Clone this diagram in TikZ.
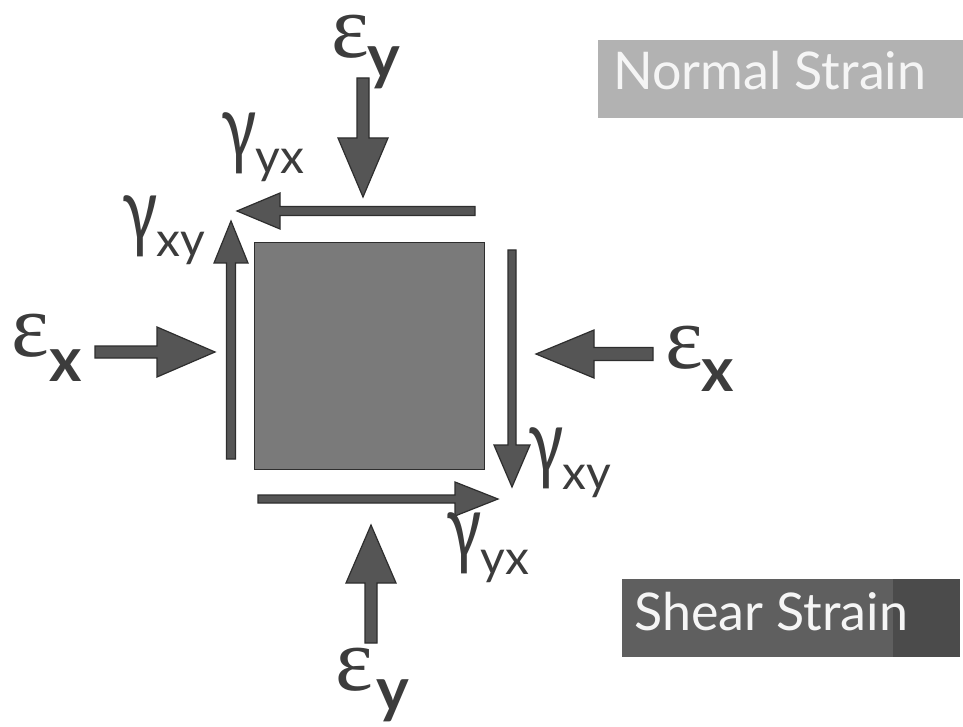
\documentclass[tikz,border=0pt]{standalone}
\usepackage{fontspec}
\setmainfont{Lato}
\newfontfamily\epsfont{Liberation Serif}
\definecolor{sqfill}{HTML}{7A7A7A}
\definecolor{edge}{HTML}{2E2E2E}
\definecolor{arrfill}{HTML}{555555}
\definecolor{lab}{HTML}{3C3C3C}
\definecolor{nbox}{HTML}{B2B2B2}
\definecolor{sbox}{HTML}{5F5F5F}
\definecolor{sboxd}{HTML}{4B4B4B}
\tikzset{
  arr/.style={fill=arrfill, draw=edge, line width=1.2pt, line join=miter},
  eps/.style={anchor=south west, inner sep=0pt, text=lab, font=\epsfont\fontsize{90}{90}\selectfont},
  esub/.style={anchor=base west, inner sep=0pt, text=lab, font=\fontsize{62}{62}\selectfont\bfseries},
  gam/.style={anchor=south west, inner sep=0pt, text=lab, font=\fontsize{90}{90}\selectfont},
  gsub/.style={anchor=base west, inner sep=0pt, text=lab, font=\fontsize{48}{48}\selectfont},
  boxtext/.style={anchor=base west, inner sep=0pt, font=\fontsize{52}{52}\selectfont},
}
\newcommand\gchar{\scalebox{0.72}[1]{γ}}
\newcommand\myharrow[6]{% tail x, tip x, y, shaft hw, head length, head hw
  \pgfmathsetmacro\hbase{(#2>#1) ? (#2-#5) : (#2+#5)}
  \filldraw[arr] (#1,{#3-#4}) -- (\hbase,{#3-#4}) -- (\hbase,{#3-#6}) -- (#2,#3)
    -- (\hbase,{#3+#6}) -- (\hbase,{#3+#4}) -- (#1,{#3+#4}) -- cycle;}
\newcommand\myvarrow[6]{% x, tail y, tip y, shaft hw, head length, head hw
  \pgfmathsetmacro\vbase{(#3>#2) ? (#3-#5) : (#3+#5)}
  \filldraw[arr] ({#1-#4},#2) -- ({#1-#4},\vbase) -- ({#1-#6},\vbase) -- (#1,#3)
    -- ({#1+#6},\vbase) -- ({#1+#4},\vbase) -- ({#1+#4},#2) -- cycle;}
\begin{document}
\begin{tikzpicture}[x=1pt,y=-1pt]
\useasboundingbox (0,0) rectangle (963,727);
\fill[white] (0,0) rectangle (963,727);
% square element
\node (sq) [draw=edge, fill=sqfill, line width=1.4pt, minimum width=230, minimum height=227, inner sep=0pt, anchor=north west] at (254,242) {};
% normal strain arrows
\myvarrow{363}{78}{197}{6}{59}{25}
\myvarrow{371}{643}{525}{6}{58}{25}
\myharrow{95}{215}{352}{6}{58}{25}
\myharrow{653}{536}{354}{6.5}{58}{24}
% shear arrows
\myharrow{475}{237}{211}{4.5}{43}{18}
\myvarrow{231}{459}{221}{4.5}{42}{17}
\myvarrow{512}{250}{487}{4}{42}{18}
\myharrow{258}{498}{499}{4}{43}{17}
% epsilon labels
\node (eyT) [eps] at (331,59) {ε};
\node (eyTs) [esub] at (367,79) {y};
\node (exL) [eps] at (11,358) {ε};
\node (exLs) [esub] at (49,381) {x};
\node (exR) [eps] at (665,370) {ε};
\node (exRs) [esub] at (701,391) {x};
\node (eyB) [eps] at (335,692) {ε};
\node (eyBs) [esub] at (376,711) {y};
% gamma labels
\node (gyxT) [gam] at (221,174) {\gchar};
\node (gyxTs) [gsub] at ([xshift=-1pt]gyxT.south east) {yx};
\node (gxyL) [gam] at (122,257) {\gchar};
\node (gxyLs) [gsub] at ([xshift=-1pt]gxyL.south east) {xy};
\node (gxyR) [gam] at (528,489) {\gchar};
\node (gxyRs) [gsub] at ([xshift=-1pt]gxyR.south east) {xy};
\node (gyxB) [gam] at (446,574) {\gchar};
\node (gyxBs) [gsub] at ([xshift=-1pt]gyxB.south east) {yx};
% legend boxes
\node (nb) [fill=nbox, minimum width=365, minimum height=78, inner sep=0pt, anchor=north west] at (598,40) {};
\node (nbt) [boxtext, text=white!96!black] at (613,90) {Normal Strain};
\node (sb) [fill=sbox, minimum width=338, minimum height=78, inner sep=0pt, anchor=north west] at (622,579) {};
\node (sbd) [fill=sboxd, minimum width=67, minimum height=78, inner sep=0pt, anchor=north west] at (893,579) {};
\node (sbt) [boxtext, text=white!96!black] at (634,630) {Shear Strain};
\end{tikzpicture}
\end{document}
